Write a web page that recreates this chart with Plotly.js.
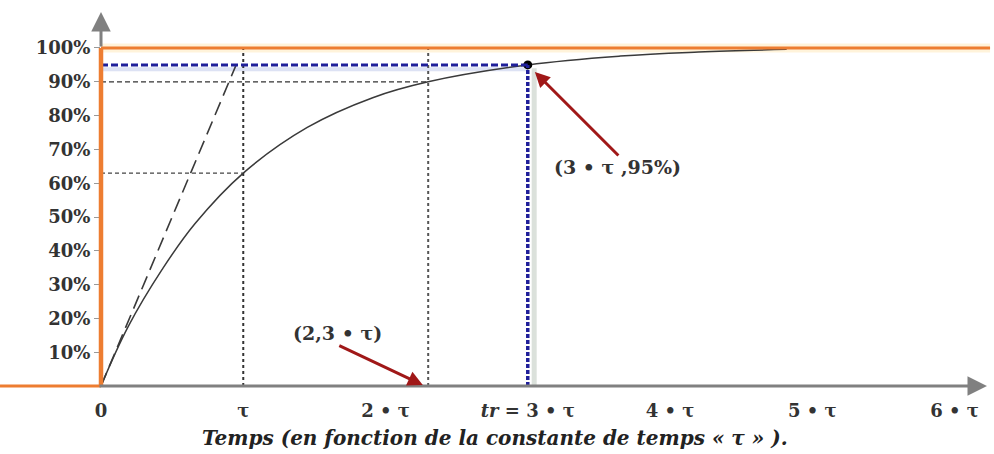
<!DOCTYPE html>
<html>
<head>
<meta charset="utf-8">
<script src="https://cdn.plot.ly/plotly-3.0.1.min.js"></script>
<style>html,body{margin:0;padding:0;background:#fff;}#chart{width:994px;height:454px;}</style>
</head>
<body>
<div id="chart"></div>
<script>
// Response curve (t in units of tau, y in %)
const curveT = [0, 0.19, 0.43, 0.66, 1, 1.45, 1.91, 2.3, 3, 3.65, 4.2, 4.82];
const curveY = [0, 17.5, 34.5, 48, 63, 76.5, 85.3, 90, 95, 97.6, 98.8, 99.6];
// Tangent at origin
const tangentT = [0, 0.95];
const tangentY = [0, 95];
// Characteristic points
const tauPoint = {t: 1, y: 63};
const t90Point = {t: 2.3, y: 90};
const trPoint = {t: 3, y: 95};
// Ticks
const xTickVals = [0, 1, 2, 3, 4, 5, 6];
const xTickText = ['0', 'τ', '2 • τ', '<i>tr</i> = 3 • τ', '4 • τ', '5 • τ', '6 • τ'];
const yTickVals = [10, 20, 30, 40, 50, 60, 70, 80, 90, 100];
const yTickText = ['10%', '20%', '30%', '40%', '50%', '60%', '70%', '80%', '90%', '100%'];
const xTitle = 'Temps (en fonction de la constante de temps « τ » ).';
const label95 = '(3 • τ ,95%)';
const label23 = '(2,3 • τ)';

const ORANGE = '#ED7D31';
const GREY = '#808080';
const BLUE = '#1f1f9a';
const RED = '#a01818';
const FONT = 'DejaVu Serif';

const traces = [
  {x: curveT, y: curveY, mode: 'lines', line: {color: '#3a3a3a', width: 1.5, shape: 'spline', smoothing: 1.1}, hoverinfo: 'skip'},
  {x: tangentT, y: tangentY, mode: 'lines', line: {color: '#3a3a3a', width: 1.6, dash: '14px,7px'}, hoverinfo: 'skip'},
  {x: [trPoint.t], y: [trPoint.y], mode: 'markers', marker: {color: '#000', size: 9}, hoverinfo: 'skip'}
];

const shapes = [
  {type: 'line', xref: 'x', yref: 'y', x0: trPoint.t + 0.045, x1: trPoint.t + 0.045, y0: 0, y1: trPoint.y - 1, line: {color: 'rgba(190,200,190,0.55)', width: 5}, layer: 'below'},
  {type: 'line', xref: 'x', yref: 'y', x0: 0, x1: trPoint.t, y0: trPoint.y - 1.3, y1: trPoint.y - 1.3, line: {color: 'rgba(180,190,230,0.45)', width: 4}, layer: 'below'},
  {type: 'line', xref: 'paper', yref: 'y', x0: 0, x1: 1.008, y0: 100, y1: 100, line: {color: 'rgba(255,220,150,0.35)', width: 9}, layer: 'below'},
  {type: 'line', xref: 'x', yref: 'y', x0: tauPoint.t, x1: tauPoint.t, y0: 0, y1: 100, line: {color: '#333', width: 2, dash: 'dot'}},
  {type: 'line', xref: 'x', yref: 'y', x0: t90Point.t, x1: t90Point.t, y0: 0, y1: 100, line: {color: '#555', width: 2, dash: 'dot'}},
  {type: 'line', xref: 'x', yref: 'y', x0: 0, x1: tauPoint.t, y0: tauPoint.y, y1: tauPoint.y, line: {color: '#444', width: 1.2, dash: '4px,3px'}},
  {type: 'line', xref: 'x', yref: 'y', x0: 0, x1: t90Point.t, y0: t90Point.y, y1: t90Point.y, line: {color: '#333', width: 1.2, dash: '5px,3px'}},
  {type: 'line', xref: 'x', yref: 'y', x0: 0, x1: trPoint.t, y0: trPoint.y, y1: trPoint.y, line: {color: BLUE, width: 3, dash: '7px,3px'}},
  {type: 'line', xref: 'x', yref: 'y', x0: trPoint.t, x1: trPoint.t, y0: 0, y1: trPoint.y, line: {color: BLUE, width: 3.5, dash: '4px,2px'}},
  {type: 'line', xref: 'paper', yref: 'y', x0: 0, x1: 1.008, y0: 100, y1: 100, line: {color: ORANGE, width: 3}},
  {type: 'line', xref: 'paper', yref: 'paper', x0: -0.1145, x1: 0, y0: 0, y1: 0, line: {color: ORANGE, width: 3}},
  {type: 'line', xref: 'paper', yref: 'y', x0: 0, x1: 0, y0: 0, y1: 100, line: {color: ORANGE, width: 4.5}}
];

const annotations = [
  {xref: 'paper', yref: 'paper', x: 1.0045, y: 0, ax: -889, ay: 0, axref: 'pixel', ayref: 'pixel', text: '', showarrow: true, arrowcolor: GREY, arrowwidth: 3, arrowhead: 2, arrowsize: 1.3, standoff: 0},
  {xref: 'paper', yref: 'paper', x: 0, y: 0.995, ax: 0, ay: 36, text: '', showarrow: true, arrowcolor: GREY, arrowwidth: 3, arrowhead: 2, arrowsize: 1.3, standoff: 0},
  {xref: 'x', yref: 'y', x: 3.05, y: 92.9, ax: 85, ay: 85, text: '', showarrow: true, arrowcolor: RED, arrowwidth: 3, arrowhead: 2, arrowsize: 1, standoff: 0},
  {xref: 'x', yref: 'y', x: 2.262, y: 0.3, ax: -85, ay: -40, text: '', showarrow: true, arrowcolor: RED, arrowwidth: 3, arrowhead: 2, arrowsize: 1, standoff: 0},
  {xref: 'x', yref: 'y', x: 3.632, y: 64.8, text: label95, showarrow: false, font: {family: FONT, size: 19, color: '#333', weight: 'bold'}},
  {xref: 'x', yref: 'y', x: 1.665, y: 15.7, text: label23, showarrow: false, font: {family: FONT, size: 19, color: '#333', weight: 'bold'}},
  // x axis title (placed as an annotation so it can sit off-centre like the reference)
  {xref: 'paper', yref: 'paper', x: 0.4467, y: -0.138, yanchor: 'middle', text: xTitle, showarrow: false, font: {family: FONT, size: 20, color: '#222', weight: 'bold', style: 'italic'}}
];

const layout = {
  width: 994, height: 454,
  margin: {l: 101, r: 11, t: 10, b: 68},
  paper_bgcolor: '#fff', plot_bgcolor: 'rgba(0,0,0,0)',
  showlegend: false,
  xaxis: {
    range: [0, 6.2], showgrid: false, zeroline: false, showline: false,
    tickvals: xTickVals, ticktext: xTickText, ticks: '', ticklabelstandoff: 12,
    tickfont: {family: FONT, size: 18, color: '#333', weight: 'bold'},
    automargin: false, fixedrange: true
  },
  yaxis: {
    range: [0, 111.24], showgrid: false, zeroline: false, showline: false,
    tickvals: yTickVals, ticktext: yTickText, ticks: 'outside', ticklen: 6, tickcolor: '#999', tickwidth: 1,
    tickfont: {family: FONT, size: 18, color: '#333', weight: 'bold'},
    automargin: false, fixedrange: true
  },
  shapes: shapes,
  annotations: annotations
};

Plotly.newPlot('chart', traces, layout, {displayModeBar: false, staticPlot: true});
</script>
</body>
</html>
